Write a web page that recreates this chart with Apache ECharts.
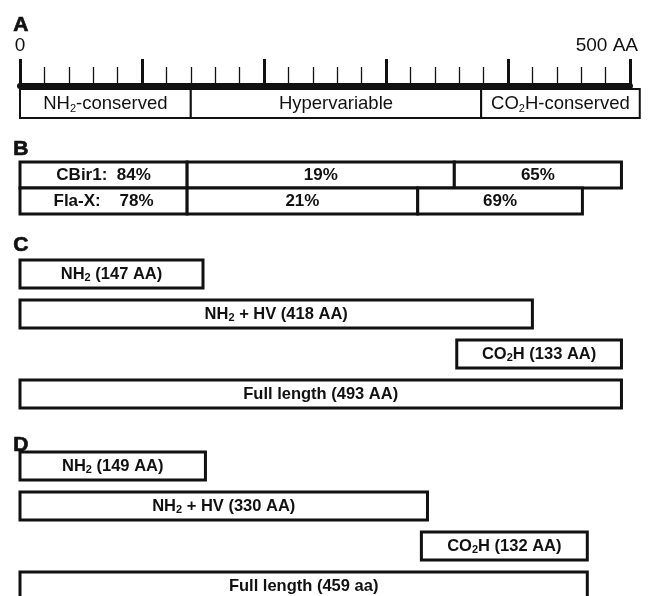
<!DOCTYPE html>
<html><head><meta charset="utf-8">
<script src="https://cdn.jsdelivr.net/npm/echarts@6/dist/echarts.min.js"></script>
<style>html,body{margin:0;padding:0;background:#fff}#c{width:649px;height:596px}</style>
</head><body><div id="c"></div>
<script>
// ---------- data ----------
const axisMin = 0;
const axisMax = 500;
const rulerStep = 100;
const rulerTickLabels = {0: '0', 500: '500 AA'};

// Panel A: domain map (AA positions)
const aLabels = ['NH{s|2}-conserved', 'Hypervariable', 'CO{s|2}H-conserved'];
const aStart = [0, 140, 378];
const aEnd = [140, 378, 508];

// Panel B: identity per domain
const bRows = ['CBir1', 'Fla-X'];
const bCBir1Bounds = [0, 137, 356, 493];
const bCBir1Labels = ['CBir1:  84%', '19%', '65%'];
const bFlaXBounds = [0, 137, 326, 461];
const bFlaXLabels = ['Fla-X:    78%', '21%', '69%'];

// Panel C: CBir1 constructs
const cLabels = ['NH{s|2} (147 AA)', 'NH{s|2} + HV (418 AA)', 'CO{s|2}H (133 AA)', 'Full length (493 AA)'];
const cStart = [0, 0, 358, 0];
const cEnd = [150, 420, 493, 493];

// Panel D: Fla-X constructs
const dLabels = ['NH{s|2} (149 AA)', 'NH{s|2} + HV (330 AA)', 'CO{s|2}H (132 AA)', 'Full length (459 aa)'];
const dStart = [0, 0, 329, 0];
const dEnd = [152, 334, 465, 465];

// ---------- chart ----------
const FONT = '"Liberation Sans", Arial, Helvetica, sans-serif';
const INK = '#111';

function textStyle(size, weight, subSize, lh, subLh) {
  return {
    fontSize: size, fontWeight: weight, fontFamily: FONT, fill: INK, lineHeight: lh,
    rich: { s: { fontSize: subSize, fontWeight: weight, fontFamily: FONT, fill: INK, color: INK, verticalAlign: 'bottom', lineHeight: subLh } }
  };
}

function boxSeries(idx, data, labels, fill, lw, ts) {
  return {
    type: 'custom', xAxisIndex: idx, yAxisIndex: idx, clip: false, silent: true,
    data: data,
    renderItem: function (params, api) {
      const s = api.value(0), e = api.value(1), row = api.value(2);
      const p0 = api.coord([s, row]);
      const p1 = api.coord([e, row]);
      const h = Math.abs(api.size([0, 1])[1]) * fill;
      return {
        type: 'rect',
        shape: { x: p0[0], y: p0[1] - h / 2, width: p1[0] - p0[0], height: h },
        style: { fill: '#fff', stroke: INK, lineWidth: lw },
        textContent: { style: Object.assign({ text: labels[params.dataIndex] }, ts) },
        textConfig: { position: 'inside' }
      };
    }
  };
}

function segData(bounds, row) {
  const out = [];
  for (let i = 0; i < bounds.length - 1; i++) out.push([bounds[i], bounds[i + 1], row]);
  return out;
}

const L = 20, R = 19;
const grids = [
  { left: L, right: R, top: 20, height: 66 },   // ruler
  { left: L, right: R, top: 89, height: 29 },   // A domains
  { left: L, right: R, top: 162, height: 52 },  // B
  { left: L, right: R, top: 254, height: 160 }, // C
  { left: L, right: R, top: 446, height: 150 }  // D (last row runs off the page)
];

const xAxes = grids.map((g, i) => ({
  gridIndex: i, type: 'value', min: axisMin, max: axisMax, interval: rulerStep,
  show: i === 0, position: 'bottom',
  axisLine: { show: true, lineStyle: { color: INK, width: 6 } },
  axisTick: { show: true, inside: true, length: 27, lineStyle: { color: INK, width: 3 } },
  minorTick: { show: true, splitNumber: 5, length: 19, lineStyle: { color: INK, width: 1.3 } },
  splitLine: { show: false },
  axisLabel: {
    show: true, inside: true, margin: 31, color: INK, fontFamily: FONT, fontSize: 19,
    alignMaxLabel: 'right',
    formatter: v => rulerTickLabels[v] !== undefined ? (v === axisMax ? '{r|' + rulerTickLabels[v] + '}' : rulerTickLabels[v]) : '',
    rich: { r: { fontSize: 19, fontFamily: FONT, color: INK, padding: [0, -8, 0, 0] } }
  }
}));

const yAxes = [
  { gridIndex: 0, type: 'value', show: false, min: 0, max: 1 },
  { gridIndex: 1, type: 'category', show: false, data: ['domains'], inverse: true },
  { gridIndex: 2, type: 'category', show: false, data: bRows, inverse: true },
  { gridIndex: 3, type: 'category', show: false, data: cLabels, inverse: true },
  // value axis so the 4th row can run past the page bottom at the same 40px pitch
  { gridIndex: 4, type: 'value', show: false, min: -0.5, max: 3.25, inverse: true }
];

const tsA = textStyle(18.5, 'normal', 11, 22, 11);
const tsB = textStyle(17, 'bold', 11, 20, 11);
const tsCD = textStyle(16.5, 'bold', 11, 18, 11);

const series = [
  boxSeries(1, aStart.map((s, i) => [s, aEnd[i], 0]), aLabels, 1.0, 2, tsA),
  boxSeries(2, segData(bCBir1Bounds, 0), bCBir1Labels, 1.0, 3, tsB),
  boxSeries(2, segData(bFlaXBounds, 1), bFlaXLabels, 1.0, 3, tsB),
  boxSeries(3, cStart.map((s, i) => [s, cEnd[i], i]), cLabels, 0.7, 3, tsCD),
  boxSeries(4, dStart.map((s, i) => [s, dEnd[i], i]), dLabels, 0.7, 3, tsCD)
];

const panelLetter = (t, x, y) => ({
  type: 'text', left: x, top: y,
  style: { text: t, font: 'bold 21px ' + FONT, fill: INK, stroke: INK, lineWidth: 0.7 }
});

const chart = echarts.init(document.getElementById('c'), null, { renderer: 'canvas' });
chart.setOption({
  backgroundColor: '#fff',
  animation: false,
  grid: grids,
  xAxis: xAxes,
  yAxis: yAxes,
  series: series,
  graphic: [
    panelLetter('A', 13, 14),
    panelLetter('B', 13, 138),
    panelLetter('C', 13, 234),
    panelLetter('D', 13, 434)
  ]
});
</script></body></html>
